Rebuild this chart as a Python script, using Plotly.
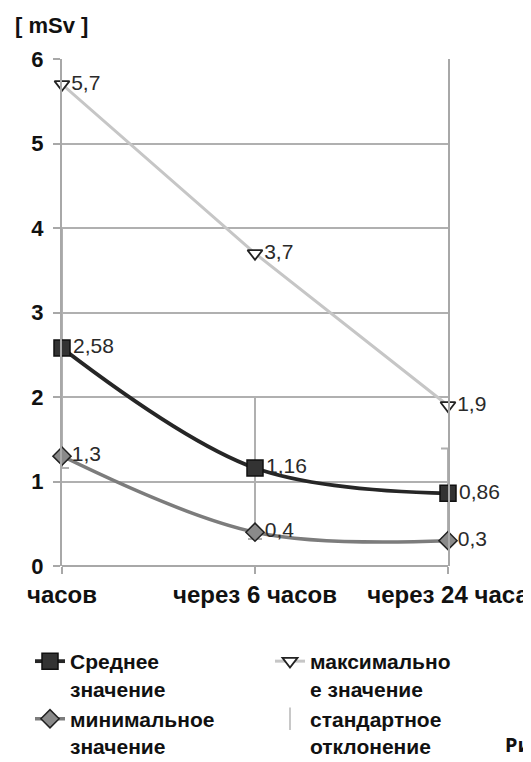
import plotly.graph_objects as go

categories = ["часов", "через 6 часов", "через 24 часа"]
mean_vals = [2.58, 1.16, 0.86]
min_vals = [1.3, 0.4, 0.3]
max_vals = [5.7, 3.7, 1.9]
std_vals = [1.42, 0.84, 0.53]
mean_labels = ["2,58", "1,16", "0,86"]
min_labels = ["1,3", "0,4", "0,3"]
max_labels = ["5,7", "3,7", "1,9"]
y_ticks = [0, 1, 2, 3, 4, 5, 6]

xpos = list(range(len(categories)))
FONT = "Liberation Sans, Arial, sans-serif"
OFF = 8  # page body margin
W, H = 531 - OFF, 762 - OFF
ML, MT = 62 - OFF, 59 - OFF
MR, MB = W - (448 - OFF), H - (566 - OFF)
PW, PH = W - ML - MR, H - MT - MB


def px_x(px):
    return (px - OFF - ML) / PW


def px_y(py):
    return (H - MB - (py - OFF)) / PH


fig = go.Figure()

# mean series with std error bars
fig.add_trace(go.Scatter(
    x=xpos, y=mean_vals, mode="lines+markers+text", name="Среднее<br>значение",
    line=dict(color="#262626", width=3.8, shape="spline", smoothing=1.0),
    marker=dict(symbol="square", size=16, color="#333", line=dict(color="#111", width=1.5)),
    error_y=dict(type="data", array=std_vals, visible=True, color="#b0b0b0", thickness=2, width=7),
    text=mean_labels, textposition="middle right",
    textfont=dict(family=FONT, size=21, color="#2a2a2a"),
    cliponaxis=False, legend="legend",
))
# min series
fig.add_trace(go.Scatter(
    x=xpos, y=min_vals, mode="lines+markers+text", name="минимальное<br>значение",
    line=dict(color="#7c7c7c", width=3.5, shape="spline", smoothing=1.0),
    marker=dict(symbol="diamond", size=14, color="#8a8a8a", line=dict(color="#222", width=1.5)),
    text=min_labels, textposition="middle right",
    textfont=dict(family=FONT, size=21, color="#2a2a2a"),
    cliponaxis=False, legend="legend",
))
# max series
fig.add_trace(go.Scatter(
    x=xpos, y=max_vals, mode="lines+markers+text", name="максимально<br>е значение",
    line=dict(color="#c6c6c6", width=3),
    marker=dict(symbol="triangle-down", size=13, color="white", line=dict(color="#222", width=1.8)),
    text=max_labels, textposition="middle right",
    textfont=dict(family=FONT, size=21, color="#2a2a2a"),
    cliponaxis=False, legend="legend2",
))
# legend-only entry for std deviation
fig.add_trace(go.Scatter(
    x=[None], y=[None], mode="markers", name="стандартное<br>отклонение",
    marker=dict(symbol="line-ns-open", size=30, color="#c8c8c8", line=dict(color="#c8c8c8", width=2)),
    legend="legend2",
))

legend_common = dict(
    orientation="v", yanchor="top", xanchor="left",
    xref="container", yref="container",
    font=dict(family=FONT, size=21, color="#111", weight="bold"),
    traceorder="normal", valign="top", itemwidth=30, tracegroupgap=0,
    bgcolor="rgba(0,0,0,0)",
)

fig.update_layout(
    width=W, height=H,
    margin=dict(l=ML, r=MR, t=MT, b=MB, autoexpand=False),
    paper_bgcolor="white", plot_bgcolor="white",
    font=dict(family=FONT, color="#111"),
    showlegend=True,
    legend=dict(x=(30 - OFF) / W, y=1 - (641 - OFF) / H, **legend_common),
    legend2=dict(x=(270 - OFF) / W, y=1 - (641 - OFF) / H, **legend_common),
    xaxis=dict(
        range=[0, 2], tickvals=xpos, ticktext=categories, automargin=False, tickangle=0,
        showgrid=False, showline=False, zeroline=False,
        ticks="outside", ticklen=7, tickcolor="#a8a8a8", tickwidth=2,
        tickfont=dict(family=FONT, size=24, color="#111", weight="bold"),
    ),
    yaxis=dict(
        range=[0, 6], tickvals=y_ticks, automargin=False,
        showgrid=True, gridcolor="#b0b0b0", gridwidth=2,
        showline=True, linecolor="#a8a8a8", linewidth=2, mirror=True,
        zeroline=True, zerolinecolor="#a8a8a8", zerolinewidth=2,
        ticks="outside", ticklen=7, tickcolor="#a8a8a8", tickwidth=2,
        ticklabelstandoff=5,
        tickfont=dict(family=FONT, size=22, color="#111", weight="bold"),
    ),
    annotations=[
        dict(text="[ mSv ]", xref="paper", yref="paper", x=px_x(13), y=px_y(25),
             xanchor="left", yanchor="middle", showarrow=False,
             font=dict(family=FONT, size=22, color="#111", weight="bold")),
        dict(text="Рис.", xref="paper", yref="paper", x=px_x(503), y=px_y(744),
             xanchor="left", yanchor="middle", showarrow=False,
             font=dict(family="Noto Sans, sans-serif", size=20, color="#111", weight="bold")),
    ],
)

fig.write_html("out.html")
